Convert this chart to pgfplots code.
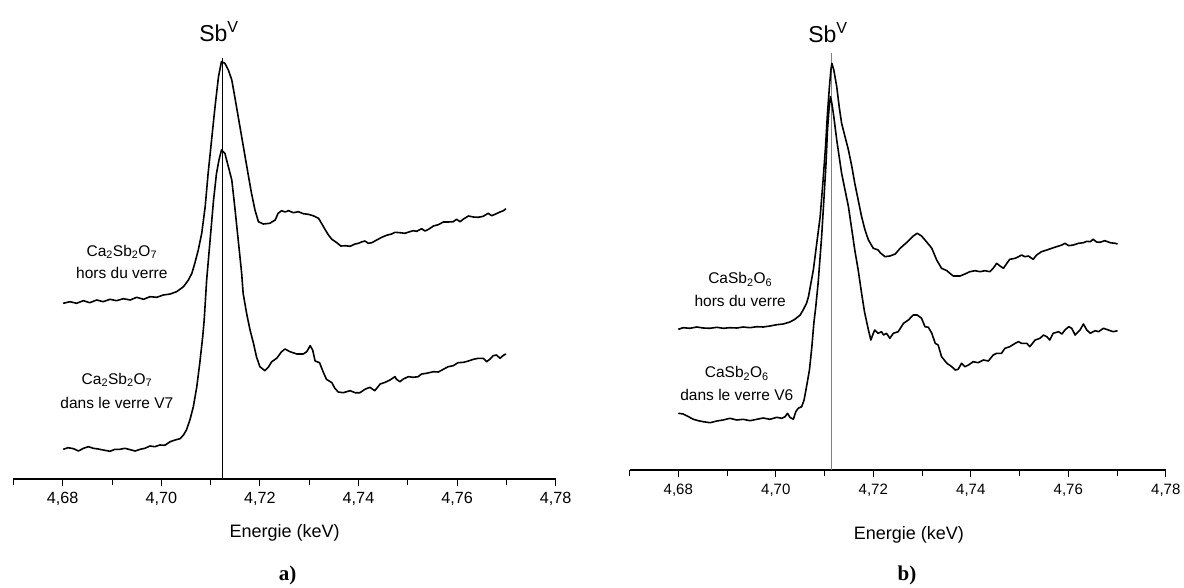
\documentclass[border=0pt]{standalone}
\usepackage{fontspec}
\setmainfont{Liberation Sans}
\newfontfamily\timesf{Liberation Serif}
\usepackage{pgfplots}
\usepackage{pgfplotstable}
\pgfplotsset{compat=1.18}

% Panel a: Ca2Sb2O7 hors du verre (offset curve)
\pgfplotstableread{
E y
4.6801 175.7
4.6815 177.3
4.6828 175.7
4.6842 178.3
4.6855 176.3
4.6869 179.0
4.6882 177.3
4.6896 179.7
4.6909 178.3
4.6923 180.3
4.6937 179.0
4.6950 181.7
4.6964 179.7
4.6977 182.3
4.6991 181.7
4.7004 184.0
4.7018 185.0
4.7031 187.3
4.7045 192.3
4.7055 199.0
4.7062 205.7
4.7068 215.7
4.7075 229.0
4.7082 245.7
4.7089 272.3
4.7095 305.7
4.7102 339.0
4.7109 372.3
4.7116 402.3
4.7122 417.3
4.7129 415.7
4.7136 409.0
4.7143 399.0
4.7149 382.3
4.7156 362.3
4.7163 342.3
4.7170 322.3
4.7177 302.3
4.7183 285.7
4.7190 269.0
4.7197 257.3
4.7207 255.0
4.7220 255.7
4.7231 259.0
4.7237 265.7
4.7244 268.3
4.7251 267.0
4.7258 268.3
4.7268 266.3
4.7278 267.3
4.7288 265.3
4.7298 264.7
4.7308 263.3
4.7319 260.7
4.7325 255.7
4.7332 249.7
4.7339 244.0
4.7346 239.7
4.7356 236.3
4.7364 233.0
4.7373 233.3
4.7383 232.7
4.7393 235.0
4.7400 235.7
4.7406 237.0
4.7413 238.0
4.7420 235.7
4.7427 236.3
4.7437 239.0
4.7447 241.7
4.7457 243.7
4.7467 245.0
4.7474 246.7
4.7484 246.3
4.7494 245.7
4.7504 247.3
4.7511 248.3
4.7518 247.7
4.7528 250.3
4.7535 248.0
4.7542 249.7
4.7552 253.0
4.7562 254.3
4.7572 257.0
4.7582 257.0
4.7592 257.3
4.7599 259.7
4.7606 257.3
4.7613 260.0
4.7623 263.0
4.7633 262.0
4.7643 261.7
4.7653 262.7
4.7663 265.7
4.7670 263.3
4.7677 264.7
4.7687 267.0
4.7694 268.3
4.7699 270.3
}\atop

% Panel a: Ca2Sb2O7 dans le verre V7
\pgfplotstableread{
E y
4.6801 29.7
4.6811 31.3
4.6822 30.3
4.6832 28.0
4.6842 30.7
4.6852 32.3
4.6862 30.7
4.6872 30.0
4.6882 29.0
4.6896 27.7
4.6906 29.7
4.6916 29.7
4.6926 30.7
4.6937 29.3
4.6947 28.0
4.6957 29.7
4.6967 30.7
4.6977 33.0
4.6987 32.3
4.6997 34.0
4.7007 33.7
4.7018 37.3
4.7028 39.0
4.7038 40.3
4.7045 44.0
4.7051 49.0
4.7058 59.0
4.7065 72.3
4.7072 92.3
4.7078 115.7
4.7084 142.3
4.7087 159.0
4.7092 199.0
4.7099 239.0
4.7106 279.0
4.7112 305.7
4.7117 319.0
4.7122 329.0
4.7129 325.7
4.7136 312.3
4.7143 299.0
4.7149 272.3
4.7156 239.0
4.7163 205.7
4.7166 185.7
4.7173 165.7
4.7180 149.0
4.7187 135.7
4.7193 122.3
4.7200 112.3
4.7210 108.3
4.7217 111.7
4.7224 117.3
4.7234 120.7
4.7244 127.3
4.7251 130.0
4.7261 127.3
4.7275 125.0
4.7288 125.0
4.7295 127.3
4.7302 133.3
4.7307 129.0
4.7312 118.0
4.7321 116.3
4.7329 106.3
4.7335 99.7
4.7346 96.3
4.7352 90.7
4.7359 87.0
4.7369 86.3
4.7383 88.3
4.7393 86.3
4.7403 86.3
4.7413 89.7
4.7423 91.7
4.7433 88.3
4.7444 95.0
4.7454 96.7
4.7464 99.0
4.7474 102.3
4.7477 99.7
4.7484 97.3
4.7491 100.0
4.7501 102.3
4.7511 101.7
4.7521 102.3
4.7528 105.0
4.7538 105.7
4.7552 107.3
4.7562 107.0
4.7572 109.7
4.7582 112.3
4.7592 113.3
4.7602 116.3
4.7613 116.7
4.7623 118.0
4.7633 119.7
4.7643 120.7
4.7653 120.7
4.7660 117.3
4.7667 120.0
4.7673 123.3
4.7680 124.0
4.7687 120.7
4.7694 123.7
4.7699 125.0
}\abot

% Panel b: CaSb2O6 hors du verre
\pgfplotstableread{
E y
4.6800 140.7
4.6810 142.3
4.6824 141.7
4.6838 143.0
4.6851 142.0
4.6865 141.7
4.6879 142.7
4.6892 141.7
4.6906 142.3
4.6920 142.0
4.6933 143.0
4.6947 142.3
4.6961 143.3
4.6974 143.0
4.6988 144.0
4.7002 145.3
4.7015 146.0
4.7029 148.0
4.7039 150.7
4.7050 155.0
4.7056 160.0
4.7063 166.7
4.7067 173.3
4.7077 200.0
4.7084 226.7
4.7091 253.3
4.7097 290.0
4.7102 323.3
4.7106 356.7
4.7110 383.3
4.7113 400.0
4.7115 406.7
4.7119 400.0
4.7125 383.3
4.7130 363.3
4.7135 346.7
4.7142 333.3
4.7149 320.0
4.7156 303.3
4.7162 286.7
4.7169 270.0
4.7176 253.3
4.7183 240.0
4.7190 230.0
4.7200 221.7
4.7210 220.0
4.7214 217.3
4.7224 213.3
4.7234 214.0
4.7245 216.0
4.7255 221.7
4.7268 227.3
4.7282 234.0
4.7290 236.7
4.7299 234.0
4.7309 228.3
4.7320 221.7
4.7330 210.0
4.7340 201.7
4.7351 199.3
4.7357 196.7
4.7364 194.0
4.7378 194.0
4.7388 196.0
4.7398 198.3
4.7409 199.3
4.7419 198.3
4.7429 199.3
4.7439 198.3
4.7446 201.7
4.7453 206.7
4.7460 204.0
4.7467 201.7
4.7474 206.7
4.7480 210.7
4.7491 211.7
4.7498 213.3
4.7504 215.0
4.7511 213.3
4.7518 214.0
4.7528 210.7
4.7535 215.0
4.7545 218.3
4.7556 220.0
4.7566 221.7
4.7576 223.3
4.7587 225.0
4.7593 226.7
4.7601 224.3
4.7610 225.0
4.7621 226.7
4.7631 227.3
4.7638 228.7
4.7645 228.3
4.7651 230.7
4.7658 228.0
4.7665 227.7
4.7675 229.3
4.7686 227.3
4.7696 226.7
4.7701 226.0
}\btop

% Panel b: CaSb2O6 dans le verre V6
\pgfplotstableread{
E y
4.6800 56.7
4.6810 56.0
4.6821 53.3
4.6831 50.7
4.6841 49.3
4.6851 48.3
4.6865 47.3
4.6879 49.0
4.6892 50.0
4.6906 51.7
4.6920 50.0
4.6933 50.7
4.6947 49.3
4.6961 50.7
4.6974 52.0
4.6988 50.7
4.7002 52.7
4.7012 51.7
4.7019 53.3
4.7024 56.7
4.7029 52.7
4.7036 50.7
4.7041 58.3
4.7046 61.7
4.7053 63.3
4.7058 70.0
4.7063 83.3
4.7069 100.0
4.7074 123.3
4.7078 146.7
4.7082 163.3
4.7087 188.0
4.7094 233.3
4.7099 273.3
4.7103 306.7
4.7106 340.0
4.7109 360.0
4.7112 373.3
4.7115 366.7
4.7119 353.3
4.7125 330.0
4.7130 313.3
4.7135 296.7
4.7142 280.0
4.7149 263.3
4.7156 240.0
4.7162 220.0
4.7169 200.0
4.7176 176.7
4.7182 158.0
4.7190 140.0
4.7195 130.0
4.7200 136.7
4.7203 140.0
4.7210 136.7
4.7217 138.3
4.7221 135.0
4.7227 136.7
4.7234 131.7
4.7241 136.7
4.7251 138.3
4.7262 146.7
4.7272 150.0
4.7282 155.0
4.7290 155.0
4.7299 151.7
4.7306 143.3
4.7313 142.7
4.7320 136.7
4.7327 126.7
4.7333 125.0
4.7340 113.3
4.7351 106.7
4.7361 103.3
4.7368 100.0
4.7374 100.7
4.7381 106.7
4.7388 103.3
4.7395 105.0
4.7405 108.3
4.7415 107.3
4.7426 110.0
4.7436 109.0
4.7446 115.0
4.7453 116.7
4.7463 116.7
4.7470 121.7
4.7480 123.3
4.7491 126.7
4.7498 128.3
4.7504 126.7
4.7515 126.7
4.7521 123.3
4.7532 130.0
4.7542 131.7
4.7549 135.0
4.7556 133.3
4.7562 130.0
4.7569 136.7
4.7580 138.3
4.7587 136.0
4.7593 140.0
4.7601 143.3
4.7607 141.7
4.7614 135.0
4.7624 140.0
4.7631 146.0
4.7638 140.0
4.7645 136.7
4.7655 139.3
4.7662 138.3
4.7672 141.7
4.7682 140.0
4.7692 138.3
4.7701 139.3
}\bbot

\pgfplotsset{
  spec/.style={
    scale only axis, height=440pt,
    xmin=4.67, xmax=4.78, ymin=0, ymax=440,
    axis x line=bottom, axis y line=none,
    axis line style={-, line width=1.5pt},
    ytick=\empty,
    xtick={4.68,4.70,4.72,4.74,4.76,4.78},
    minor xtick={4.67,4.69,4.71,4.73,4.75,4.77},
    tick align=outside, major tick length=7pt, minor tick length=5.5pt,
    tick style={black, line width=0.9pt},
    minor tick style={black, line width=0.9pt},
    clip=false,
  },
  curve/.style={black, line width=1.6pt, line join=round, no markers},
}

\begin{document}
\begin{tikzpicture}
\path (0,0) rectangle (1184pt,587pt);
% ---------- panel a ----------
\begin{axis}[spec, width=542.3pt, at={(13.4pt,108pt)}, anchor=south west,
    xticklabel style={font=\fontsize{16.2}{19}\selectfont, yshift=-3pt,
      /pgf/number format/.cd, fixed, fixed zerofill, precision=2, use comma, assume math mode=true}]
  \addplot[black, line width=0.8pt, no markers] coordinates {(4.7124,0) (4.7124,421)};
  \addplot[curve] table[x=E, y=y] {\atop};
  \addplot[curve] table[x=E, y=y] {\abot};
  \node at (axis cs:4.7117,447) {\fontsize{23}{26}\selectfont Sb\textsuperscript{V}};
  \node[font=\fontsize{15.5}{18}\selectfont] at (axis cs:4.6920,227.3) {Ca\textsubscript{2}Sb\textsubscript{2}O\textsubscript{7}};
  \node[font=\fontsize{15.5}{18}\selectfont] at (axis cs:4.6920,205.7) {hors du verre};
  \node[font=\fontsize{15.5}{18}\selectfont] at (axis cs:4.6910,99) {Ca\textsubscript{2}Sb\textsubscript{2}O\textsubscript{7}};
  \node[font=\fontsize{15.5}{18}\selectfont] at (axis cs:4.6910,75.7) {dans le verre V7};
  \node[font=\fontsize{18}{21}\selectfont] at (axis cs:4.725,-54) {Energie (keV)};
  \node[font=\fontsize{21}{24}\selectfont\timesf\bfseries] at (axis cs:4.7256,-96) {a)};
\end{axis}
% ---------- panel b ----------
\begin{axis}[spec, width=536.25pt, at={(629.55pt,117pt)}, anchor=south west,
    xticklabel style={font=\fontsize{15}{18}\selectfont, yshift=-3.5pt,
      /pgf/number format/.cd, fixed, fixed zerofill, precision=2, use comma, assume math mode=true}]
  \addplot[gray, line width=1.1pt, no markers] coordinates {(4.7114,0) (4.7114,417)};
  \addplot[curve] table[x=E, y=y] {\btop};
  \addplot[curve] table[x=E, y=y] {\bbot};
  \node at (axis cs:4.7107,437) {\fontsize{23}{26}\selectfont Sb\textsuperscript{V}};
  \node[font=\fontsize{15.5}{18}\selectfont] at (axis cs:4.6927,190.7) {CaSb\textsubscript{2}O\textsubscript{6}};
  \node[font=\fontsize{15.5}{18}\selectfont] at (axis cs:4.6927,169.3) {hors du verre};
  \node[font=\fontsize{15.5}{18}\selectfont] at (axis cs:4.6920,96.7) {CaSb\textsubscript{2}O\textsubscript{6}};
  \node[font=\fontsize{15.5}{18}\selectfont] at (axis cs:4.6920,75) {dans le verre V6};
  \node[font=\fontsize{18}{21}\selectfont] at (axis cs:4.7273,-65) {Energie (keV)};
  \node[font=\fontsize{21}{24}\selectfont\timesf\bfseries] at (axis cs:4.7269,-105) {b)};
\end{axis}
\end{tikzpicture}
\end{document}
